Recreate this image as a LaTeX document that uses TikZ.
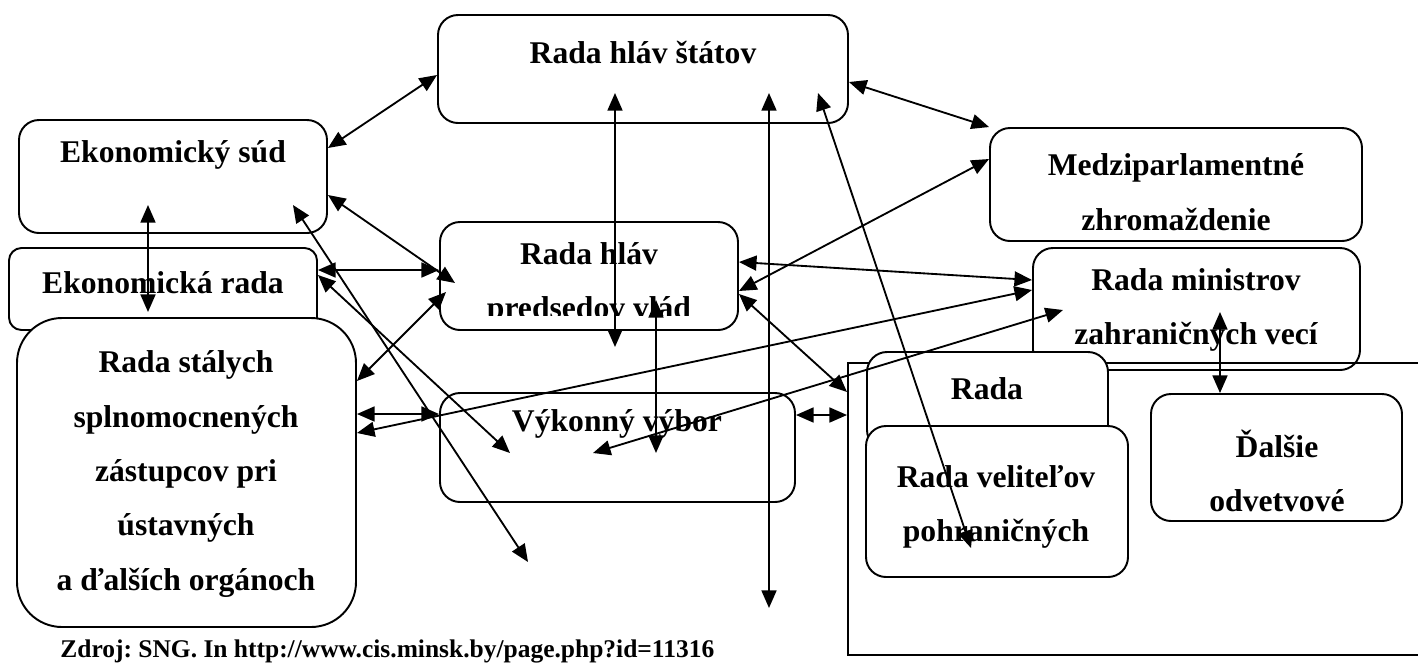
\documentclass[tikz,border=0pt]{standalone}
\usepackage{fontspec}
\setmainfont{Liberation Serif}
\usetikzlibrary{arrows.meta,fit}
\tikzset{
  ramec/.style={draw, rounded corners=0.4cm, line width=1.1pt, inner sep=0pt, fill=white},
  ramecm/.style={ramec, rounded corners=0.25cm},
  ramecv/.style={ramec, rounded corners=0.9cm},
  panel/.style={draw, line width=1.1pt, inner sep=0pt},
  popis/.style={font=\bfseries\fontsize{18}{31}\selectfont, align=center, inner sep=0pt},
  zdroj/.style={font=\bfseries\frenchspacing\fontsize{14.5}{17}\selectfont, inner sep=0pt},
  sipka/.style={{Triangle[length=10pt,width=8.5pt]}-{Triangle[length=10pt,width=8.5pt]}, line width=1.05pt},
}
\begin{document}
\begin{tikzpicture}[x=0.02cm, y=-0.02cm]
  \useasboundingbox (0,0) rectangle (1418,664);
  \node[ramec, fit={(438,15) (848,123)}] (statov) {};
  \node[popis] (statov-t) at (643,52) {Rada hláv štátov};
  \node[ramec, fit={(19,120) (327,233)}] (sud) {};
  \node[popis] (sud-t) at (173,155) {Ekonomický súd};
  \node[ramecm, fit={(9,248) (317,330)}] (erada) {};
  \node[popis] (erada-t) at (163,283) {Ekonomická rada};
  \node[ramecv, fit={(17,318) (356,627)}] (stali) {};
  \node[popis] (stali-t) at (186,474) {Rada stálych\\splnomocnených\\zástupcov pri\\ústavných\\a ďalších orgánoch};
  \node[ramec, fit={(440,222) (738,330)}] (vlady) {};
  \begin{scope}
    \clip (440,222) rectangle (738,315);
    \node[popis] (vlady-t) at (589,284) {Rada hláv\\predsedov vlád};
  \end{scope}
  \node[ramec, fit={(440,393) (795,502)}] (vybor) {};
  \node[popis] (vybor-t) at (617,424) {Výkonný výbor};
  \node[ramec, fit={(990,128) (1362,241)}] (medzi) {};
  \node[popis] (medzi-t) at (1176,192) {Medziparlamentné\\zhromaždenie};
  \node[ramec, fit={(1033,248) (1360,370)}] (ministri) {};
  \node[popis] (ministri-t) at (1196,310) {Rada ministrov\\zahraničných vecí};
  \node[panel, fit={(848,363) (1440,655)}] (panel) {};
  \node[ramec, fit={(867,352) (1108,450)}] (rada) {};
  \node[popis] (rada-t) at (987,389) {Rada};
  \node[ramec, fit={(866,426) (1128,577)}] (velitelia) {};
  \node[popis] (velitelia-t) at (996,507) {Rada veliteľov\\pohraničných};
  \node[ramec, fit={(1151,394) (1402,521)}] (dalsie) {};
  \node[popis] (dalsie-t) at (1277,471) {Ďalšie\\odvetvové};
  \node[zdroj, anchor=base west] (zdroj) at (60,657) {Zdroj: SNG. In http://www.cis.minsk.by/page.php?id=11316};

  \coordinate (sud-a) at (148,205);
  \coordinate (erada-a) at (148,312);
  \coordinate (vlady-a) at (455,283);
  \coordinate (sud-b) at (293,205);
  \coordinate (pod-a) at (528,562);
  \coordinate (vybor-a) at (510,453);
  \coordinate (vlady-b) at (446,292);
  \coordinate (vybor-b) at (593,453);
  \coordinate (ministri-a) at (1063,310);
  \coordinate (statov-a) at (615,93);
  \coordinate (vlady-c) at (615,347);
  \coordinate (vlady-d) at (656,300);
  \coordinate (vybor-c) at (656,453);
  \coordinate (statov-b) at (769,93);
  \coordinate (pod-b) at (769,608);
  \coordinate (statov-c) at (818,93);
  \coordinate (velitelia-a) at (971,548);
  \coordinate (ministri-b) at (1220,312);

  \draw[sipka] (sud.east |- 0,148) -- (statov.west |- 0,75);
  \draw[sipka] (statov.east |- 0,82) -- (medzi.north west);
  \draw[sipka] (sud-a) -- (erada-a);
  \draw[sipka] (sud.east |- 0,195) -- (vlady-a);
  \draw[sipka] (erada.east |- 0,270) -- (vlady.west |- 0,270);
  \draw[sipka] (sud-b) -- (pod-a);
  \draw[sipka] (erada.east |- 0,275) -- (vybor-a);
  \draw[sipka] (stali.east |- 0,381) -- (vlady-b);
  \draw[sipka] (stali.east |- 0,414) -- (vybor.west |- 0,414);
  \draw[sipka] (stali.east |- 0,433) -- (ministri.west |- 0,290);
  \draw[sipka] (vlady.east |- 0,262) -- (ministri.west |- 0,280);
  \draw[sipka] (vlady.east |- 0,291) -- (medzi.west |- 0,159);
  \draw[sipka] (vlady.east |- 0,294) -- (panel.west |- 0,392);
  \draw[sipka] (vybor-b) -- (ministri-a);
  \draw[sipka] (vybor.east |- 0,415) -- (panel.west |- 0,415);
  \draw[sipka] (statov-a) -- (vlady-c);
  \draw[sipka] (vlady-d) -- (vybor-c);
  \draw[sipka] (statov-b) -- (pod-b);
  \draw[sipka] (statov-c) -- (velitelia-a);
  \draw[sipka] (ministri-b) -- (dalsie.north -| ministri-b);
\end{tikzpicture}
\end{document}
